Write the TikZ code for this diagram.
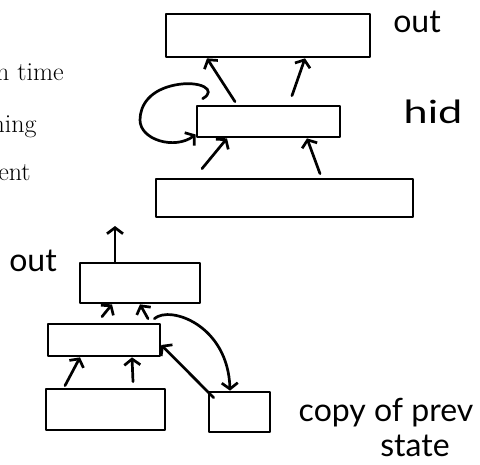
\documentclass[tikz,border=0pt]{standalone}
\usepackage{fontspec}
\newfontfamily\handfont{Lato}
\usetikzlibrary{arrows.meta}
\begin{document}
\begin{tikzpicture}[x=1pt,y=-1pt,
  line width=2.7pt, line cap=round, line join=round,
  box/.style={draw, rectangle, inner sep=0pt},
  arr/.style={-{Straight Barb[length=6pt,width=16pt]}},
  lab/.style={font=\handfont\fontsize{32}{36}\selectfont, inner sep=0pt},
  serif/.style={font=\fontsize{26}{30}\selectfont, inner sep=0pt, anchor=base east}]
\useasboundingbox (0,0) rectangle (480,464);
\clip (0,0) rectangle (480,464);
% left serif text (cut off at the left edge)
\node[serif] (s1) at (65,80) {n time};
\node[serif] (s2) at (38,132) {ning};
\node[serif] (s3) at (32,180) {ent};
% upper diagram
\node[box, minimum width=204pt, minimum height=43pt] (top) at (268,35.5) {};
\node[box, minimum width=143pt, minimum height=31pt] (hid) at (268.5,121.5) {};
\node[box, minimum width=257pt, minimum height=38pt] (inp) at (284.5,198) {};
\draw[arr] ([xshift=-33.5pt,yshift=3pt]hid.north) -- ([xshift=-61pt]top.south);
\draw[arr] ([xshift=23.5pt,yshift=9pt]hid.north) -- ([xshift=37pt]top.south);
\draw[arr] ([xshift=-82.5pt,yshift=9pt]inp.north) -- ([xshift=-41.5pt]hid.south);
\draw[arr] ([xshift=35.5pt,yshift=4pt]inp.north) -- ([xshift=38.5pt]hid.south);
\draw[arr] ([xshift=7pt,yshift=6pt]hid.north west)
  .. controls (218,90) and (200,80) .. (175,85)
  .. controls (150,90) and (140,105) .. (140,120)
  .. controls (140,140) and (175,150) .. ([yshift=-13pt]hid.west);
\node[lab] (tout) at (417,22) {out};
\node[lab, xscale=1.35] (thid) at (433,112) {hid};
% lower diagram
\node[box, minimum width=120pt, minimum height=40pt] (lout) at (140,283) {};
\node[box, minimum width=112pt, minimum height=32pt] (lhid) at (104,340) {};
\node[box, minimum width=119pt, minimum height=41pt] (lin) at (105.5,409.5) {};
\node[box, minimum width=61pt, minimum height=40pt] (copy) at (239.5,412) {};
\coordinate (outtip) at (115,226);
\draw[arr] ([xshift=-25pt]lout.north) -- (outtip);
\draw[arr] ([xshift=-2pt,yshift=6pt]lhid.north) -- ([xshift=-28pt]lout.south);
\draw[arr] ([xshift=44pt,yshift=4pt]lhid.north) -- (lout.south);
\draw[arr] ([xshift=-40.5pt,yshift=2pt]lin.north) -- ([xshift=-24pt]lhid.south);
\draw[arr] ([xshift=27.5pt,yshift=6pt]lin.north) -- ([xshift=28pt]lhid.south);
\draw[arr] ([xshift=-7pt,yshift=4pt]lhid.north east)
  .. controls (170,305) and (228,325) .. ([xshift=-9.5pt]copy.north);
\draw[arr] ([xshift=6pt,yshift=-7pt]copy.north west) -- ([yshift=-5pt]lhid.east);
\node[lab] (lolab) at (33,261) {out};
\node[lab] (tcopy) at (386,413) {copy of prev};
\node[lab] (tstate) at (415,446) {state};
\end{tikzpicture}
\end{document}
